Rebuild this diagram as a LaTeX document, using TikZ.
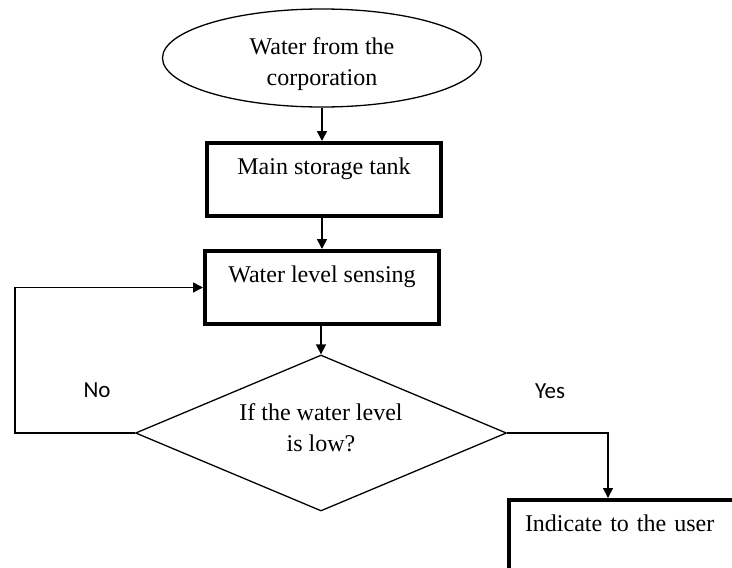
\documentclass[tikz,border=0pt]{standalone}
\usepackage{fontspec}
\setmainfont{Liberation Serif}
\newfontfamily\labelfont{Carlito}
\usepackage{tikz}
\usetikzlibrary{shapes.geometric,arrows.meta,calc,positioning}

\begin{document}
\begin{tikzpicture}[x=1pt, y=-1pt, >={Triangle[length=10pt,width=10pt]},
    font=\fontsize{24}{31}\selectfont,
    flow/.style={->, line width=1.5pt},
    procbox/.style={draw, line width=4pt, text height=31pt, text depth=42pt, inner ysep=0pt},
    decision/.style={draw, diamond, aspect=2.4, line width=1.3pt, minimum width=371pt, minimum height=156pt, inner sep=0pt, align=center},
    choice/.style={font=\labelfont\fontsize{23}{27}\selectfont}]
    \useasboundingbox (0,0) rectangle (732,568);
    \clip (0,0) rectangle (732,568);
    \node (source) [draw, ellipse, line width=1.3pt, minimum width=319pt, minimum height=98pt, inner sep=0pt, align=center] at (322,58)
      {\rule{0pt}{30pt}Water from the\\corporation};
    \node (tank) [procbox, anchor=north, minimum width=234pt] at (324,141) {Main storage tank};
    \node (sensing) [procbox, anchor=north, minimum width=234pt] at (322,249) {Water level sensing};
    \node (check) [decision] at (321,433) {If the water level\\is low?\rule[-10pt]{0pt}{10pt}};
    \node (alert) [procbox, anchor=north west, text width=240pt, inner xsep=16pt, align=left] at (507,498) {Indicate to the user};
    \node (nolabel) [choice] at (97,390) {No};
    \node (yeslabel) [choice] at (550,391) {Yes};
    \coordinate (nobend) at (15,0);
    \coordinate (yesdrop) at (608,0);
    \draw[flow] (source.south -| 322,0) -- (322,0 |- tank.north);
    \draw[flow] (tank.south -| 322,0) -- (sensing.north -| 322,0);
    \draw[flow] (sensing.south -| check.north) -- (check.north);
    \draw[flow] (check.west) -| (nobend |- sensing.west) -- (sensing.west);
    \draw[flow] (check.east) -| (yesdrop |- alert.north);
  \end{tikzpicture}
\end{document}
